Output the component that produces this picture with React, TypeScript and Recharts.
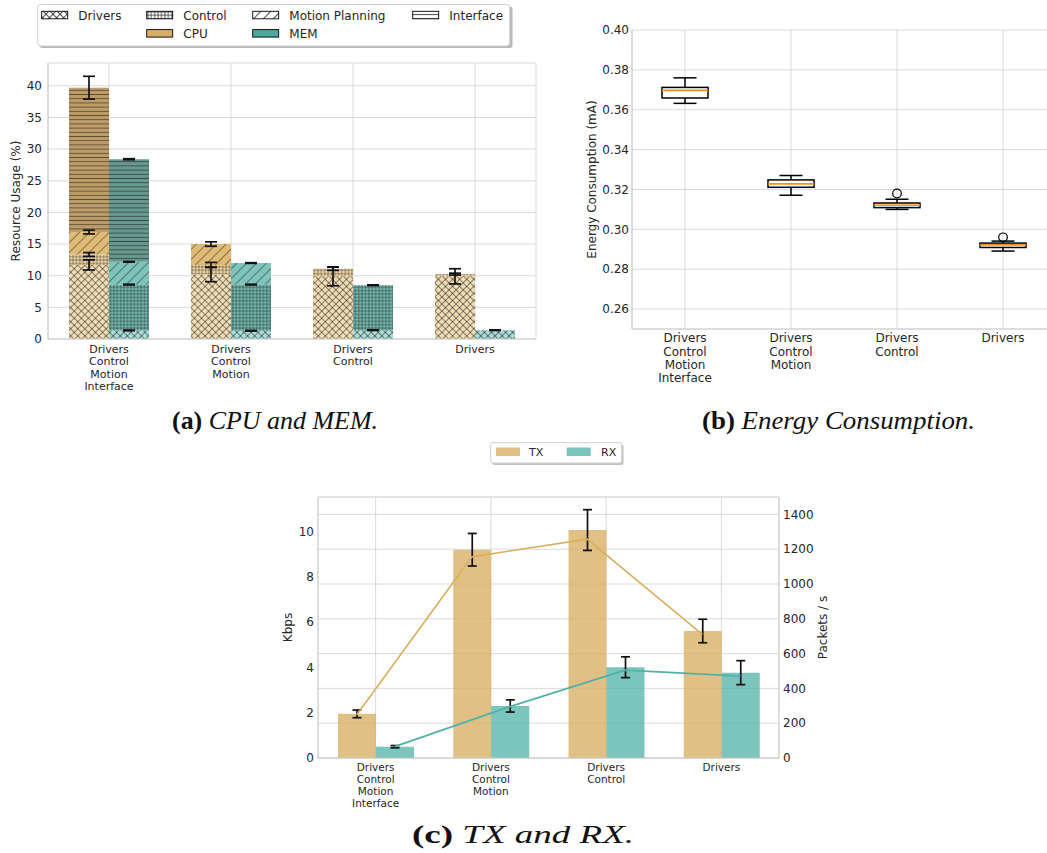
import React from 'react';
import {
  ComposedChart,
  Bar,
  Line,
  XAxis,
  YAxis,
  CartesianGrid,
  ErrorBar,
  Scatter,
} from 'recharts';

// ---------- shared categories ----------
const configs = [
  'Drivers\nControl\nMotion\nInterface',
  'Drivers\nControl\nMotion',
  'Drivers\nControl',
  'Drivers',
];

// ---------- (a) CPU and MEM (stacked segment heights, %) ----------
const cpuDrivers = [11.7, 10.2, 9.9, 9.9];
const cpuControl = [1.65, 1.5, 1.2, 0.35];
const cpuMotion = [3.55, 3.3, 0, 0];
const cpuInterface = [22.8, 0, 0, 0];
const cpuDriversErr = [0.8, 1.15, 1.5, 1.2];
const cpuControlErr = [0.3, 0.4, 0.25, 0.15];
const cpuMotionErr = [0.3, 0.35, 0, 0];
const cpuInterfaceErr = [1.8, 0, 0, 0];

const memDrivers = [1.35, 1.3, 1.4, 1.4];
const memControl = [7.25, 7.3, 7.1, 0];
const memMotion = [3.6, 3.4, 0, 0];
const memInterface = [16.2, 0, 0, 0];
const memDriversErr = [0.05, 0.05, 0.05, 0.05];
const memControlErr = [0.05, 0.05, 0.05, 0];
const memMotionErr = [0.05, 0.05, 0, 0];
const memInterfaceErr = [0.08, 0, 0, 0];

const usageTicks = [0, 5, 10, 15, 20, 25, 30, 35, 40];

// ---------- (b) Energy consumption box plot (mA) ----------
const whiskerLow = [0.3632, 0.3171, 0.31, 0.2891];
const quart1 = [0.3659, 0.3211, 0.3109, 0.2909];
const medians = [0.3697, 0.3228, 0.3121, 0.2922];
const quart3 = [0.3712, 0.3248, 0.3132, 0.2931];
const whiskerHigh = [0.376, 0.327, 0.3151, 0.2941];
const outliers: (number | null)[] = [null, null, 0.318, 0.296];
const energyTicks = [0.26, 0.28, 0.3, 0.32, 0.34, 0.36, 0.38, 0.4];

// ---------- (c) TX and RX ----------
const txKbps = [1.95, 9.2, 10.07, 5.61];
const txKbpsErr = [0.17, 0.72, 0.9, 0.52];
const rxKbps = [0.5, 2.3, 4.01, 3.77];
const rxKbpsErr = [0.05, 0.27, 0.46, 0.53];
const txPackets = [247, 1156, 1258, 710];
const rxPackets = [65, 295, 505, 471];
const kbpsTicks = [0, 2, 4, 6, 8, 10];
const packetTicks = [0, 200, 400, 600, 800, 1000, 1200, 1400];

const usageData = configs.map((config, i) => ({
  config,
  cpuDrivers: cpuDrivers[i],
  cpuControl: cpuControl[i],
  cpuMotion: cpuMotion[i],
  cpuInterface: cpuInterface[i],
  cpuDriversErr: cpuDriversErr[i],
  cpuControlErr: cpuControlErr[i],
  cpuMotionErr: cpuMotionErr[i],
  cpuInterfaceErr: cpuInterfaceErr[i],
  memDrivers: memDrivers[i],
  memControl: memControl[i],
  memMotion: memMotion[i],
  memInterface: memInterface[i],
  memDriversErr: memDriversErr[i],
  memControlErr: memControlErr[i],
  memMotionErr: memMotionErr[i],
  memInterfaceErr: memInterfaceErr[i],
}));

const energyData = configs.map((config, i) => ({
  config,
  range: [whiskerLow[i], whiskerHigh[i]],
  lo: whiskerLow[i],
  q1: quart1[i],
  med: medians[i],
  q3: quart3[i],
  hi: whiskerHigh[i],
  outlier: outliers[i],
}));

const netData = configs.map((config, i) => ({
  config,
  tx: txKbps[i],
  txErr: txKbpsErr[i],
  rx: rxKbps[i],
  rxErr: rxKbpsErr[i],
  txPk: txPackets[i],
  rxPk: rxPackets[i],
}));

// ---------- styling ----------
const FONT = 'DejaVu Sans';
const TEXT = '#262626';
const GRID = '#dadada';
const SPINE = '#cccccc';

const cpuFills = ['#f1ddb5', '#edd4a3', '#dfbb78', '#bc9d69'];
const memFills = ['#abdcd6', '#74b8ae', '#7ec4bb', '#68998f'];
const hatchKinds = ['cross', 'grid', 'diag', 'horiz'];
const hatchOpacity = [0.55, 0.5, 0.5, 0.5];
const layerNames = ['Drivers', 'Control', 'Motion', 'Interface'];

function hatchPattern(id: string, kind: string, bg: string, stroke: string, op: number) {
  if (kind === 'cross') {
    return (
      <pattern key={id} id={id} width={5} height={5} patternUnits="userSpaceOnUse" patternTransform="rotate(45)">
        <rect width={5} height={5} fill={bg} />
        <path d="M0,2.5 H5 M2.5,0 V5" stroke={stroke} strokeOpacity={op} strokeWidth={0.8} />
      </pattern>
    );
  }
  if (kind === 'grid') {
    return (
      <pattern key={id} id={id} width={3.4} height={3.4} patternUnits="userSpaceOnUse">
        <rect width={3.4} height={3.4} fill={bg} />
        <path d="M0,1.7 H3.4 M1.7,0 V3.4" stroke={stroke} strokeOpacity={op} strokeWidth={0.7} />
      </pattern>
    );
  }
  if (kind === 'diag') {
    return (
      <pattern key={id} id={id} width={7} height={7} patternUnits="userSpaceOnUse" patternTransform="rotate(45)">
        <rect width={7} height={7} fill={bg} />
        <path d="M3.5,0 V7" stroke={stroke} strokeOpacity={op} strokeWidth={0.8} />
      </pattern>
    );
  }
  return (
    <pattern key={id} id={id} width={4} height={4.2} patternUnits="userSpaceOnUse">
      <rect width={4} height={4.2} fill={bg} />
      <path d="M0,2.1 H4" stroke={stroke} strokeOpacity={op} strokeWidth={0.9} />
    </pattern>
  );
}

const MultiTick = (props: any) => {
  const { x, y, payload, fs, lh, first } = props;
  const lines = String(payload.value).split('\n');
  return (
    <text x={x} y={y} textAnchor="middle" fill={TEXT} fontSize={fs} fontFamily={FONT}>
      {lines.map((l: string, i: number) => (
        <tspan key={i} x={x} dy={i === 0 ? first : lh}>
          {l}
        </tspan>
      ))}
    </text>
  );
};

const BoxShape = (props: any) => {
  const { x, y, width, height, payload } = props;
  if (payload == null || width == null) return <g />;
  const top = Math.min(y, y + height);
  const h = Math.abs(height);
  const { lo, hi, q1, q3, med } = payload;
  const pix = (v: number) => top + (h * (hi - v)) / (hi - lo);
  const cx = x + width / 2;
  const capHalf = width / 4;
  return (
    <g>
      <line x1={cx} x2={cx} y1={pix(hi)} y2={pix(q3)} stroke="#000" strokeWidth={1.5} />
      <line x1={cx} x2={cx} y1={pix(q1)} y2={pix(lo)} stroke="#000" strokeWidth={1.5} />
      <line x1={cx - capHalf} x2={cx + capHalf} y1={pix(hi)} y2={pix(hi)} stroke="#000" strokeWidth={1.5} />
      <line x1={cx - capHalf} x2={cx + capHalf} y1={pix(lo)} y2={pix(lo)} stroke="#000" strokeWidth={1.5} />
      <rect x={x} y={pix(q3)} width={width} height={pix(q1) - pix(q3)} fill="#fff" stroke="#000" strokeWidth={1.5} />
      <line x1={x} x2={x + width} y1={pix(med)} y2={pix(med)} stroke="#ff8c1a" strokeWidth={1.6} />
    </g>
  );
};

const OutlierShape = (props: any) => {
  const { cx, cy, payload } = props;
  if (!payload || payload.outlier == null) return <g />;
  return <circle cx={cx} cy={cy} r={4.3} fill="none" stroke="#000" strokeWidth={1.2} />;
};

const axisLabelStyle = { fontFamily: FONT, fontSize: 12, fill: TEXT, textAnchor: 'middle' as const };

function ChartA() {
  return (
    <ComposedChart
      width={545}
      height={400}
      data={usageData}
      margin={{ top: 63, right: 9, bottom: 11, left: 8 }}
      barGap={0}
      barSize={40}
    >
      <defs>
        {layerNames.map((n, i) => hatchPattern('cpu' + n, hatchKinds[i], cpuFills[i], '#000', hatchOpacity[i]))}
        {layerNames.map((n, i) => hatchPattern('mem' + n, hatchKinds[i], memFills[i], '#000', hatchOpacity[i]))}
      </defs>
      <CartesianGrid stroke={GRID} strokeWidth={1} />
      <XAxis
        dataKey="config"
        interval={0}
        height={50}
        tickLine={false}
        tickSize={0}
        tickMargin={0}
        axisLine={{ stroke: SPINE }}
        tick={<MultiTick fs={11} lh={12.3} first={14} />}
      />
      <XAxis xAxisId="top" orientation="top" dataKey="config" height={0} tick={false} tickLine={false} axisLine={{ stroke: SPINE }} />
      <YAxis
        domain={[0, 43.6]}
        ticks={usageTicks}
        width={40}
        tickLine={false}
        tickSize={0}
        tickMargin={6}
        axisLine={{ stroke: SPINE }}
        tick={{ fontFamily: FONT, fontSize: 12, fill: TEXT }}
        label={{ value: 'Resource Usage (%)', angle: -90, position: 'insideLeft', offset: 8, style: axisLabelStyle }}
      />
      <YAxis yAxisId="frame" orientation="right" width={0} tick={false} tickLine={false} axisLine={{ stroke: SPINE }} />
      {layerNames.map((n) => (
        <Bar key={'cpu' + n} dataKey={'cpu' + n} stackId="cpu" fill={`url(#cpu${n})`} isAnimationActive={false}>
          <ErrorBar dataKey={'cpu' + n + 'Err'} width={6} stroke="#111" strokeWidth={1.7} direction="y" />
        </Bar>
      ))}
      {layerNames.map((n) => (
        <Bar key={'mem' + n} dataKey={'mem' + n} stackId="mem" fill={`url(#mem${n})`} isAnimationActive={false}>
          <ErrorBar dataKey={'mem' + n + 'Err'} width={6} stroke="#111" strokeWidth={1.7} direction="y" />
        </Bar>
      ))}
    </ComposedChart>
  );
}

function ChartB() {
  return (
    <ComposedChart
      width={500}
      height={400}
      data={energyData}
      margin={{ top: 30, right: 4, bottom: 11, left: 20 }}
      barSize={46}
    >
      <CartesianGrid stroke={GRID} strokeWidth={1} />
      <XAxis
        dataKey="config"
        interval={0}
        height={60}
        tickLine={false}
        tickSize={0}
        tickMargin={0}
        axisLine={{ stroke: SPINE }}
        tick={<MultiTick fs={12} lh={13.3} first={13.4} />}
      />
      <XAxis xAxisId="top" orientation="top" dataKey="config" height={0} tick={false} tickLine={false} axisLine={{ stroke: SPINE }} />
      <YAxis
        domain={[0.25, 0.4]}
        ticks={energyTicks}
        width={52}
        tickLine={false}
        tickSize={0}
        tickMargin={3}
        axisLine={{ stroke: SPINE }}
        tickFormatter={(v: number) => v.toFixed(2)}
        tick={{ fontFamily: FONT, fontSize: 12, fill: TEXT }}
        label={{ value: 'Energy Consumption (mA)', angle: -90, position: 'insideLeft', offset: 12, style: axisLabelStyle }}
        allowDataOverflow
      />
      <YAxis yAxisId="frame" orientation="right" width={0} tick={false} tickLine={false} axisLine={{ stroke: SPINE }} />
      <Bar dataKey="range" shape={<BoxShape />} isAnimationActive={false} />
      <Scatter dataKey="outlier" shape={<OutlierShape />} isAnimationActive={false} />
    </ComposedChart>
  );
}

function ChartC() {
  return (
    <ComposedChart
      width={570}
      height={350}
      data={netData}
      margin={{ top: 27, right: 16, bottom: 7, left: 18 }}
      barGap={0}
      barSize={38}
    >
      <CartesianGrid stroke={GRID} strokeWidth={1} />
      <CartesianGrid yAxisId="right" vertical={false} stroke={GRID} strokeWidth={1} />
      <XAxis
        dataKey="config"
        interval={0}
        height={55}
        tickLine={false}
        tickSize={0}
        tickMargin={0}
        axisLine={{ stroke: SPINE }}
        tick={<MultiTick fs={10.5} lh={12} first={12.5} />}
      />
      <XAxis xAxisId="top" orientation="top" dataKey="config" height={0} tick={false} tickLine={false} axisLine={{ stroke: SPINE }} />
      <XAxis xAxisId="txl" dataKey="config" hide padding={{ left: -19, right: 19 }} />
      <XAxis xAxisId="rxl" dataKey="config" hide padding={{ left: 19, right: -19 }} />
      <YAxis
        yAxisId="left"
        domain={[0, 11.53]}
        ticks={kbpsTicks}
        width={30}
        tickLine={false}
        tickSize={0}
        tickMargin={4}
        axisLine={{ stroke: SPINE }}
        tick={{ fontFamily: FONT, fontSize: 12, fill: TEXT }}
        label={{ value: 'Kbps', angle: -90, position: 'insideLeft', offset: 0, style: axisLabelStyle }}
      />
      <YAxis
        yAxisId="right"
        orientation="right"
        domain={[0, 1500]}
        ticks={packetTicks}
        width={45}
        tickLine={false}
        tickSize={0}
        tickMargin={4}
        axisLine={{ stroke: SPINE }}
        tick={{ fontFamily: FONT, fontSize: 12, fill: TEXT }}
        label={{ value: 'Packets / s', angle: -90, position: 'insideRight', offset: 1, style: axisLabelStyle }}
      />
      <Bar yAxisId="left" dataKey="tx" fill="#d8b066" fillOpacity={0.8} isAnimationActive={false}>
        <ErrorBar dataKey="txErr" width={4.5} stroke="#111" strokeWidth={1.7} direction="y" />
      </Bar>
      <Bar yAxisId="left" dataKey="rx" fill="#4aaea3" fillOpacity={0.72} isAnimationActive={false}>
        <ErrorBar dataKey="rxErr" width={4.5} stroke="#111" strokeWidth={1.7} direction="y" />
      </Bar>
      <Line xAxisId="txl" yAxisId="right" dataKey="txPk" stroke="#d9ae5e" strokeWidth={1.6} dot={false} isAnimationActive={false} />
      <Line xAxisId="rxl" yAxisId="right" dataKey="rxPk" stroke="#4fb2a8" strokeWidth={1.8} dot={false} isAnimationActive={false} />
    </ComposedChart>
  );
}

function LegendA() {
  const row1 = [
    { x: 41.7, label: 'Drivers', fill: 'url(#lgDrivers)' },
    { x: 146.7, label: 'Control', fill: 'url(#lgControl)' },
    { x: 252.7, label: 'Motion Planning', fill: 'url(#lgMotion)' },
    { x: 412.7, label: 'Interface', fill: 'url(#lgInterface)' },
  ];
  const row2 = [
    { x: 146.7, label: 'CPU', fill: '#d9ae63' },
    { x: 252.7, label: 'MEM', fill: '#4ba89c' },
  ];
  return (
    <svg width={520} height={52} style={{ position: 'absolute', left: 0, top: 0 }}>
      <defs>
        {layerNames.map((n, i) => hatchPattern('lg' + n, hatchKinds[i], '#ffffff', '#000', 0.85))}
      </defs>
      <rect x={39.5} y={6.5} width={473} height={41.5} rx={3} fill="#9a9a9a" opacity={0.7} />
      <rect x={37.7} y={4.5} width={472} height={41.5} rx={3} fill="#fff" stroke="#cfcfcf" strokeWidth={1} />
      {row1.map((e) => (
        <g key={e.label}>
          <rect x={e.x} y={11.3} width={26} height={7.5} fill={e.fill} stroke="#000" strokeWidth={0.9} />
          <text x={e.x + 36.6} y={19.5} fontFamily={FONT} fontSize={12} fill={TEXT}>
            {e.label}
          </text>
        </g>
      ))}
      {row2.map((e) => (
        <g key={e.label}>
          <rect x={e.x} y={29.6} width={26} height={7.5} fill={e.fill} stroke="#000" strokeWidth={0.9} />
          <text x={e.x + 36.6} y={37.8} fontFamily={FONT} fontSize={12} fill={TEXT}>
            {e.label}
          </text>
        </g>
      ))}
    </svg>
  );
}

function LegendC() {
  return (
    <svg width={140} height={26} style={{ position: 'absolute', left: 486, top: 440 }}>
      <rect x={6.5} y={4.5} width={131} height={20.5} rx={2} fill="#9a9a9a" opacity={0.6} />
      <rect x={4.7} y={2.7} width={131} height={20.3} rx={2} fill="#fff" stroke="#cfcfcf" strokeWidth={1} />
      <rect x={10} y={7.5} width={24} height={8.5} fill="#d8b066" fillOpacity={0.8} />
      <text x={43} y={16.3} fontFamily={FONT} fontSize={11} fill={TEXT}>
        TX
      </text>
      <rect x={80.7} y={7.5} width={24} height={8.5} fill="#4aaea3" fillOpacity={0.72} />
      <text x={115} y={16.3} fontFamily={FONT} fontSize={11} fill={TEXT}>
        RX
      </text>
    </svg>
  );
}

function Captions() {
  const serif = 'Liberation Serif';
  return (
    <svg width={1047} height={853} style={{ position: 'absolute', left: 0, top: 0, pointerEvents: 'none' }}>
      <text x={275} y={428.5} textAnchor="middle" fontFamily={serif} fontSize={25} fill="#111" textLength={206} lengthAdjust="spacingAndGlyphs">
        <tspan fontWeight="bold">(a)</tspan>
        <tspan fontStyle="italic"> CPU and MEM.</tspan>
      </text>
      <text x={838.5} y={428.5} textAnchor="middle" fontFamily={serif} fontSize={25} fill="#111" textLength={273} lengthAdjust="spacingAndGlyphs">
        <tspan fontWeight="bold">(b)</tspan>
        <tspan fontStyle="italic"> Energy Consumption.</tspan>
      </text>
      <text x={523} y={843} textAnchor="middle" fontFamily={serif} fontSize={25} fill="#111" textLength={222} lengthAdjust="spacingAndGlyphs">
        <tspan fontWeight="bold">(c)</tspan>
        <tspan fontStyle="italic"> TX and RX.</tspan>
      </text>
    </svg>
  );
}

export default function App() {
  return (
    <div
      style={{
        position: 'absolute',
        left: 0,
        top: 0,
        width: 1047,
        height: 853,
        overflow: 'hidden',
        background: '#fff',
        fontFamily: FONT,
      }}
    >
      <div style={{ position: 'absolute', left: 0, top: 0 }}>
        <ChartA />
      </div>
      <div style={{ position: 'absolute', left: 560, top: 0 }}>
        <ChartB />
      </div>
      <div style={{ position: 'absolute', left: 270, top: 470 }}>
        <ChartC />
      </div>
      <LegendA />
      <LegendC />
      <Captions />
    </div>
  );
}
